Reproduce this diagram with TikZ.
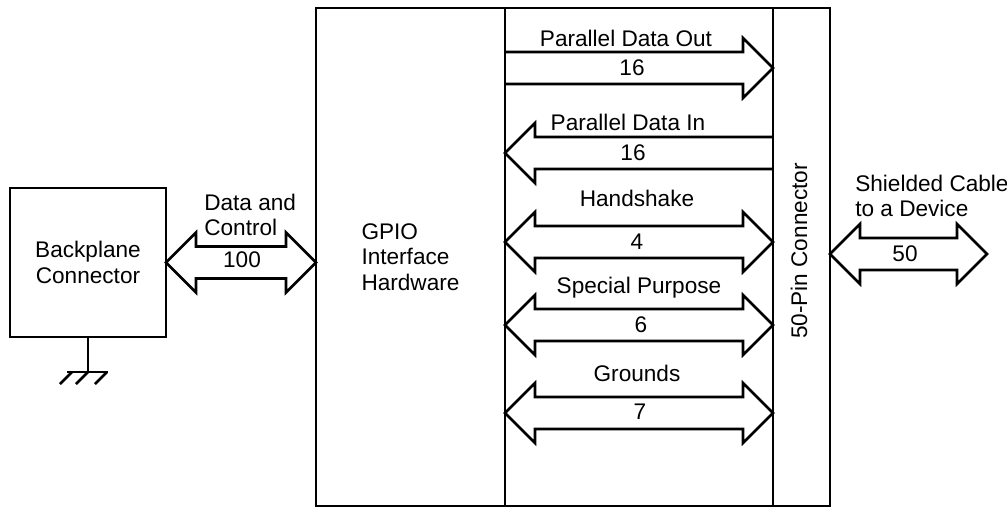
\documentclass[tikz,border=0pt]{standalone}
\usepackage{fontspec}
\setmainfont{Liberation Sans}
\usetikzlibrary{calc,positioning}

\newcommand{\headlen}{15pt}
\newcommand{\headhalf}{15pt}
\newcommand{\shafthalf}{8pt}

\tikzset{
  % fat arrow with a head at both ends
  bothbus/.style={to path={let \p1=(\tikztostart), \p2=(\tikztotarget),
      \n1={(\x2-\x1)/abs(\x2-\x1)} in
      (\x1,\y1) -- (\x1+\n1*\headlen,\y1+\headhalf) -- (\x1+\n1*\headlen,\y1+\shafthalf)
      -- (\x2-\n1*\headlen,\y1+\shafthalf) -- (\x2-\n1*\headlen,\y1+\headhalf) -- (\x2,\y1)
      -- (\x2-\n1*\headlen,\y1-\headhalf) -- (\x2-\n1*\headlen,\y1-\shafthalf)
      -- (\x1+\n1*\headlen,\y1-\shafthalf) -- (\x1+\n1*\headlen,\y1-\headhalf) -- cycle}},
  % fat arrow with one head, tail open
  singlebus/.style={to path={let \p1=(\tikztostart), \p2=(\tikztotarget),
      \n1={(\x2-\x1)/abs(\x2-\x1)} in
      (\x1,\y1+\shafthalf) -- (\x2-\n1*\headlen,\y1+\shafthalf) -- (\x2-\n1*\headlen,\y1+\headhalf)
      -- (\x2,\y1) -- (\x2-\n1*\headlen,\y1-\headhalf) -- (\x2-\n1*\headlen,\y1-\shafthalf)
      -- (\x1,\y1-\shafthalf)}}
}

\begin{document}
\begin{tikzpicture}[x=0.5pt, y=-0.5pt, line width=1.3pt, line join=miter,
  box/.style={draw, rectangle, inner sep=0pt, outer sep=0pt, align=center,
    font=\fontsize{11.3}{12.8}\selectfont},
  lbl/.style={inner sep=0pt, text depth=0pt, font=\fontsize{11.3}{12.5}\selectfont},
  mlbl/.style={inner sep=0pt, align=left, font=\fontsize{11.3}{12.5}\selectfont}]
\useasboundingbox (0,0) rectangle (1007,510);

% blocks
\node[box, minimum width=78pt, minimum height=74.5pt] (backplane) at (88,262.5) {Backplane\\Connector};
\node[box, minimum width=94.5pt, minimum height=249pt, align=left] (gpio) at (410.5,257) {GPIO\\Interface\\Hardware};
\node[box, minimum width=134pt, minimum height=249pt] (bus) at (639,257) {};
\node[box, minimum width=28.5pt, minimum height=249pt] (pins) at (801.5,257) {};
\node[lbl, rotate=90] (pinlbl) at (799,251) {50-Pin Connector};

% ground
\draw (backplane.south) -- ++(0,35) coordinate (gnd);
\draw (gnd) ++(-21,0) -- ++(41,0);
\draw (gnd) ++(-16,0) -- ++(-12,12);
\draw (gnd) ++(0,0) -- ++(-12,12);
\draw (gnd) ++(19,0) -- ++(-12,12);

% backplane side
\draw[bothbus] (backplane.east) to (backplane.east -| gpio.west);
\node[lbl] (n100) at (242,260) {100};
\node[mlbl, anchor=west] (ldc) at (203,215) {Data and\\Control};

% signal lines
\coordinate (yout) at (0,68);
\coordinate (yin) at (0,153);
\coordinate (yhs) at (0,242);
\coordinate (ysp) at (0,325);
\coordinate (ygnd) at (0,413);
\draw[singlebus] (bus.west |- yout) to (pins.west |- yout);
\draw[singlebus] (pins.west |- yin) to (bus.west |- yin);
\draw[bothbus] (bus.west |- yhs) to (pins.west |- yhs);
\draw[bothbus] (bus.west |- ysp) to (pins.west |- ysp);
\draw[bothbus] (bus.west |- ygnd) to (pins.west |- ygnd);

\node[lbl] (lout) at (626,38) {Parallel Data Out};
\node[lbl] (nout) at (632,68) {16};
\node[lbl] (lin) at (628,122) {Parallel Data In};
\node[lbl] (nin) at (633,153) {16};
\node[lbl] (lhs) at (637,198) {Handshake};
\node[lbl] (nhs) at (637,242) {4};
\node[lbl] (lsp) at (639,285) {Special Purpose};
\node[lbl] (nsp) at (641,325) {6};
\node[lbl] (lgnd) at (637,373) {Grounds};
\node[lbl] (ngnd) at (640,412) {7};

% cable side
\coordinate (cable) at (987,254);
\draw[bothbus] (pins.east |- cable) to (cable);
\node[lbl] (n50) at (905,254) {50};
\node[mlbl, anchor=west] (lcab) at (854,195.5) {Shielded Cable\\to a Device};
\end{tikzpicture}
\end{document}
